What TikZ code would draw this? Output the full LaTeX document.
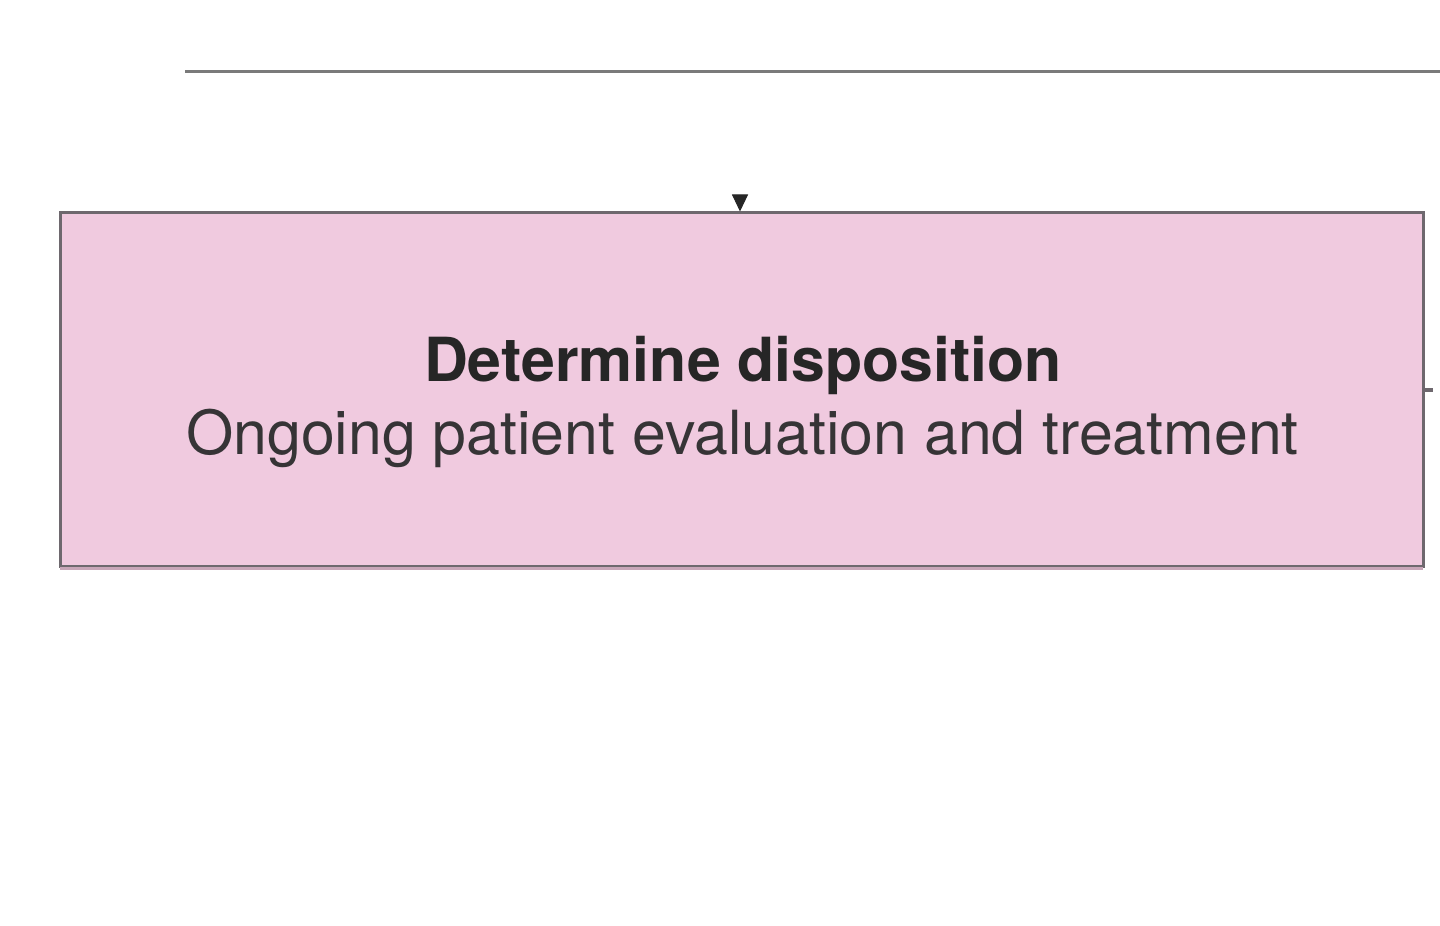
\documentclass[tikz,border=0pt]{standalone}
\usepackage{fontspec}
\setmainfont{TeX Gyre Heros}
\usetikzlibrary{arrows.meta}
\definecolor{boxfill}{HTML}{F0CADF}
\definecolor{edgegray}{HTML}{6E686E}
\definecolor{bottomedge}{HTML}{C8A6B8}
\definecolor{linegray}{HTML}{7A7A7A}
\definecolor{txtdark}{HTML}{262626}
\definecolor{txtmid}{HTML}{363436}
\tikzset{
  dispbox/.style={draw=edgegray, line width=1.5pt, fill=boxfill, minimum width=681.5pt, minimum height=177pt, inner sep=0pt},
  titletxt/.style={anchor=base, inner sep=0pt, text=txtdark, font=\fontsize{30.4}{36}\selectfont\bfseries},
  subtxt/.style={anchor=base, inner sep=0pt, text=txtmid, font=\fontsize{30.4}{36}\selectfont},
  conn/.style={draw=linegray, line width=1.5pt},
}
\begin{document}
\begin{tikzpicture}[x=1pt,y=1pt]
\useasboundingbox (0,0) rectangle (720,463);
% top horizontal line
\coordinate (tl) at (92.5,427);
\coordinate (tr) at (720,427);
\draw[conn] (tl) -- (tr);
% box
\node[dispbox] (box) at (370.75,268) {};
\draw[bottomedge, line width=1.8pt] ([xshift=0.75pt]box.south west) -- ([xshift=-0.75pt]box.south east);
\node[titletxt] (title) at (371.5,272) {Determine disposition};
\node[subtxt] (sub) at (371.25,235.5) {Ongoing patient evaluation and treatment};
% arrow tip into box
\coordinate (atop) at (370,365.5);
\draw[draw=txtdark, line width=0.5pt, -{Triangle[width=8pt,length=8.5pt,fill=txtdark]}] (atop) -- (atop |- box.north);
% right stub
\coordinate (rs) at (716.5,268);
\draw[conn, draw=edgegray, line width=1.8pt] (box.east) -- (rs);
\end{tikzpicture}
\end{document}
